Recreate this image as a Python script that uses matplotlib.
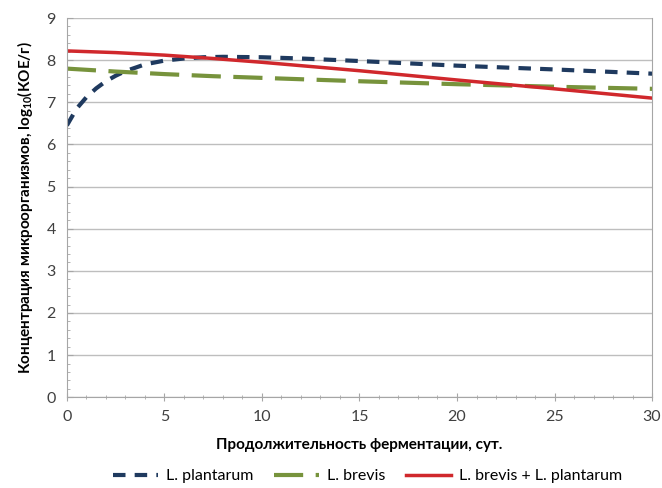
import matplotlib
matplotlib.use("Agg")
import matplotlib.pyplot as plt
from matplotlib.ticker import MultipleLocator

plt.rcParams['font.family'] = ['Lato', 'DejaVu Sans']
plt.rcParams['mathtext.default'] = 'regular'

# Data
plant_x = [0, 0.5, 1, 1.5, 2, 2.5, 3, 4, 5, 6, 7, 8, 10, 12, 15, 20, 25, 30]
plant_y = [6.45, 6.85, 7.12, 7.33, 7.5, 7.63, 7.74, 7.9, 7.99, 8.04, 8.07, 8.08, 8.07, 8.04, 7.98, 7.87, 7.78, 7.68]

brevis_x = [0, 2.5, 5, 7.5, 10, 15, 20, 25, 30]
brevis_y = [7.8, 7.73, 7.67, 7.62, 7.58, 7.5, 7.43, 7.37, 7.32]

mix_x = [0, 2.5, 5, 7.5, 10, 12.5, 15, 20, 25, 30]
mix_y = [8.22, 8.18, 8.12, 8.04, 7.95, 7.85, 7.75, 7.53, 7.32, 7.1]

labels = ['L. plantarum', 'L. brevis', 'L. brevis + L. plantarum']
xlabel = 'Продолжительность ферментации, сут.'
ylabel = 'Концентрация микроорганизмов, log$_{10}$(КОЕ/г)'

fig = plt.figure(figsize=(6.62, 4.88), dpi=100)
ax = fig.add_axes([0.101, 0.186, 0.884, 0.777])

ax.plot(plant_x, plant_y, color='#1F3A5F', lw=3, dashes=(3, 2.2), label=labels[0])
ax.plot(brevis_x, brevis_y, color='#77933C', lw=3, dashes=(7, 3), label=labels[1])
ax.plot(mix_x, mix_y, color='#D0282C', lw=2.5, label=labels[2])

ax.set_xlim(0, 30)
ax.set_ylim(0, 9)
ax.xaxis.set_major_locator(MultipleLocator(5))
ax.xaxis.set_minor_locator(MultipleLocator(1))
ax.yaxis.set_major_locator(MultipleLocator(1))
ax.yaxis.set_minor_locator(MultipleLocator(0.2))
ax.grid(axis='y', which='major', color='#BEBEBE', lw=1)
ax.set_axisbelow(True)
for s in ['left', 'bottom', 'right']:
    ax.spines[s].set_color('#A6A6A6')
ax.spines['top'].set_visible(False)
ax.tick_params(axis='x', which='major', direction='inout', length=6, color='#A6A6A6', labelsize=11.5, labelcolor='#404040', pad=6)
ax.tick_params(axis='x', which='minor', direction='inout', length=3, color='#A6A6A6')
ax.tick_params(axis='y', which='major', direction='in', length=4, color='#A6A6A6', labelsize=11.5, labelcolor='#404040', pad=8)
ax.tick_params(axis='y', which='minor', direction='in', length=2, color='#A6A6A6')

ax.set_xlabel(xlabel, fontsize=11, fontweight='bold', labelpad=10)
ax.set_ylabel(ylabel, fontsize=11, fontweight='bold', labelpad=8)

fig.legend(loc='lower center', bbox_to_anchor=(0.555, -0.02), ncol=3, frameon=False,
           fontsize=11.5, handlelength=2.8, columnspacing=1.3, handletextpad=0.5)

fig.savefig('out.png', dpi=100)
